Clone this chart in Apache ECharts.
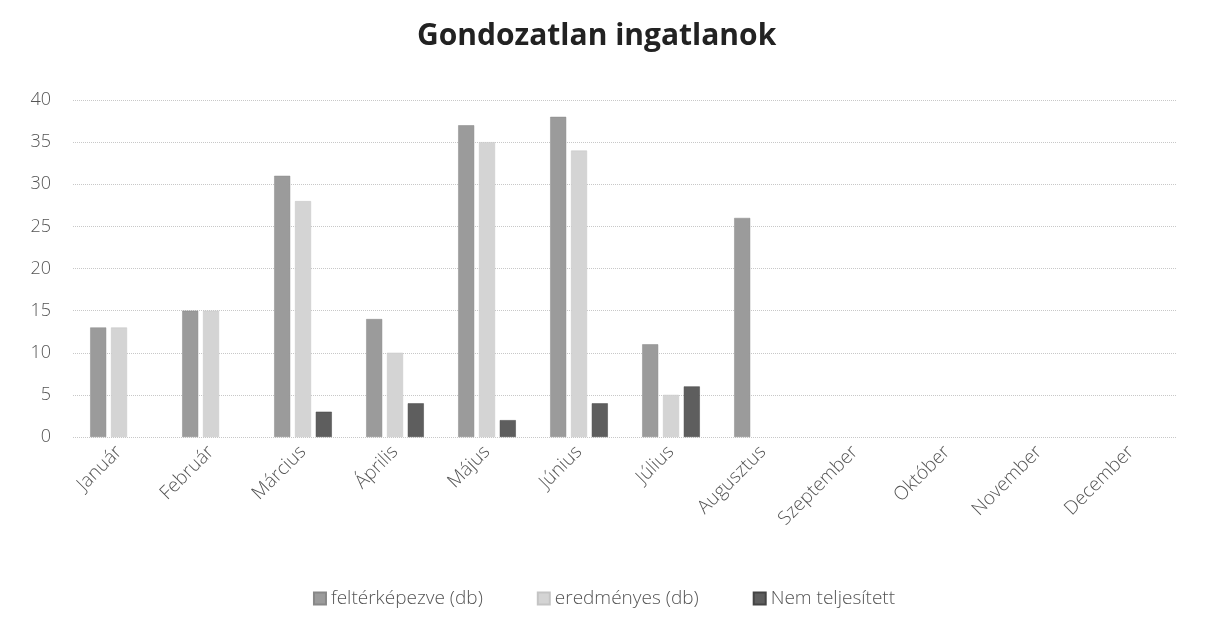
<!DOCTYPE html>
<html>
<head>
<meta charset="utf-8">
<script src="https://cdn.jsdelivr.net/npm/echarts@6/dist/echarts.min.js"></script>
<style>
  html, body { margin: 0; padding: 0; background: #fff; }
  #chart { width: 1208px; height: 631px; }
</style>
</head>
<body>
<div id="chart"></div>
<script>
// hónapok
const months = ['Január', 'Február', 'Március', 'Április', 'Május', 'Június',
  'Július', 'Augusztus', 'Szeptember', 'Október', 'November', 'December'];

// értékek (db)
const felterkepezve = [13, 15, 31, 14, 37, 38, 11, 26, null, null, null, null];
const eredmenyes = [13, 15, 28, 10, 35, 34, 5, null, null, null, null, null];
const nemTeljesitett = [null, null, 3, 4, 2, 4, 6, null, null, null, null, null];

const yTicks = { min: 0, max: 40, interval: 5 };

const myChart = echarts.init(document.getElementById('chart'));

const labelFont = 'Open Sans, Lato, sans-serif';

const option = {
  backgroundColor: '#fff',
  animation: false,
  title: {
    text: 'Gondozatlan ingatlanok',
    left: 412,
    top: 16,
    textStyle: {
      fontFamily: 'Open Sans, sans-serif',
      fontWeight: 'bold',
      fontSize: 30,
      color: '#222'
    }
  },
  legend: {
    bottom: 18,
    left: 'center',
    itemWidth: 12,
    itemHeight: 12,
    itemGap: 54,
    icon: 'rect',
    textStyle: {
      fontFamily: labelFont,
      fontSize: 19,
      fontWeight: 300,
      color: '#555'
    }
  },
  grid: {
    left: 73,
    right: 31,
    top: 100,
    bottom: 194
  },
  xAxis: {
    type: 'category',
    data: months,
    axisLine: { show: false },
    axisTick: { show: false },
    axisLabel: {
      rotate: 45,
      interval: 0,
      margin: 12,
      fontFamily: labelFont,
      fontSize: 19,
      fontWeight: 300,
      color: '#555'
    }
  },
  yAxis: {
    type: 'value',
    min: yTicks.min,
    max: yTicks.max,
    interval: yTicks.interval,
    axisLine: { show: false },
    axisTick: { show: false },
    axisLabel: {
      margin: 22,
      fontFamily: labelFont,
      fontSize: 18,
      fontWeight: 300,
      color: '#555'
    },
    splitLine: {
      lineStyle: {
        type: 'dotted',
        color: '#c8c8c8',
        width: 1
      }
    }
  },
  series: [
    {
      name: 'feltérképezve (db)',
      type: 'bar',
      data: felterkepezve,
      barWidth: 16,
      barGap: '30%',
      itemStyle: { color: '#9b9b9b', borderColor: '#888', borderWidth: 0.5 }
    },
    {
      name: 'eredményes (db)',
      type: 'bar',
      data: eredmenyes,
      barWidth: 16,
      barGap: '30%',
      itemStyle: { color: '#d4d4d4', borderColor: '#c4c4c4', borderWidth: 0.5 }
    },
    {
      name: 'Nem teljesített',
      type: 'bar',
      data: nemTeljesitett,
      barWidth: 16,
      barGap: '30%',
      itemStyle: { color: '#5e5e5e', borderColor: '#444', borderWidth: 0.5 }
    }
  ]
};

myChart.setOption(option);
</script>
</body>
</html>
